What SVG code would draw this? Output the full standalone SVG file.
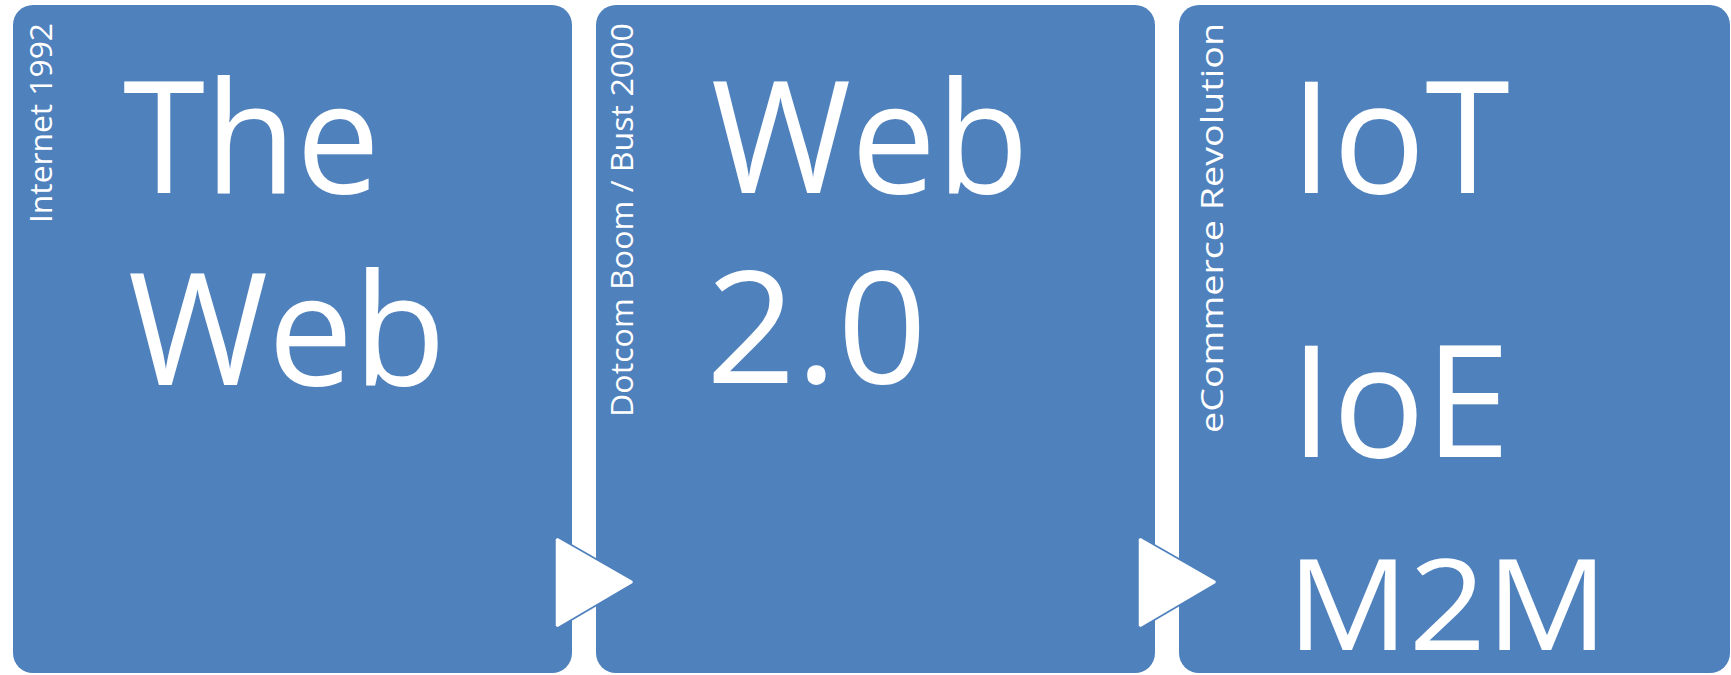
<svg xmlns="http://www.w3.org/2000/svg" width="1731" height="675" viewBox="0 0 1731 675">
<style>
.box{fill:#4F81BD;}
.big{fill:#FFFFFF;font-family:"Open Sans","Noto Sans",sans-serif;font-size:155px;}
.mid{fill:#FFFFFF;font-family:"Open Sans","Noto Sans",sans-serif;font-size:126px;}
.side{fill:#FFFFFF;font-family:"Open Sans","Noto Sans",sans-serif;font-size:31px;}
.arrow-out{fill:#FFFFFF;stroke:#4F81BD;stroke-width:6;stroke-linejoin:bevel;}
.arrow-in{fill:#FFFFFF;stroke:#FFFFFF;stroke-width:2.5;stroke-linejoin:bevel;}
</style>
<rect width="1731" height="675" fill="#FFFFFF"/>
<g id="node-web1">
<rect class="box" x="13" y="5" width="559" height="668" rx="20" ry="20"/>
<text class="side" x="52" y="223" textLength="200" lengthAdjust="spacingAndGlyphs" transform="rotate(-90 52 223)">Internet 1992</text>
<text class="big" x="123" y="193" textLength="257" lengthAdjust="spacingAndGlyphs">The</text>
<text class="big" x="128" y="385" textLength="318" lengthAdjust="spacingAndGlyphs">Web</text>
</g>
<g id="node-web2">
<rect class="box" x="596" y="5" width="559" height="668" rx="20" ry="20"/>
<text class="side" x="633" y="417" textLength="394" lengthAdjust="spacingAndGlyphs" transform="rotate(-90 633 417)">Dotcom Boom / Bust 2000</text>
<text class="big" x="711" y="193" textLength="318" lengthAdjust="spacingAndGlyphs">Web</text>
<text class="big" x="706" y="383" textLength="221" lengthAdjust="spacingAndGlyphs">2.0</text>
</g>
<g id="node-iot">
<rect class="box" x="1179" y="5" width="551" height="668" rx="20" ry="20"/>
<text class="side" x="1223" y="433" textLength="410" lengthAdjust="spacingAndGlyphs" transform="rotate(-90 1223 433)">eCommerce Revolution</text>
<text class="big" x="1290" y="193" textLength="220" lengthAdjust="spacingAndGlyphs">IoT</text>
<text class="big" x="1290" y="457" textLength="220" lengthAdjust="spacingAndGlyphs">IoE</text>
<text class="mid" x="1287" y="650" textLength="321" lengthAdjust="spacingAndGlyphs">M2M</text>
</g>
<g id="connectors">
<polygon class="arrow-out" points="557,539 632,582 557,626"/>
<polygon class="arrow-in" points="557,539 632,582 557,626"/>
<polygon class="arrow-out" points="1140,539 1215,582 1140,626"/>
<polygon class="arrow-in" points="1140,539 1215,582 1140,626"/>
</g>
</svg>
